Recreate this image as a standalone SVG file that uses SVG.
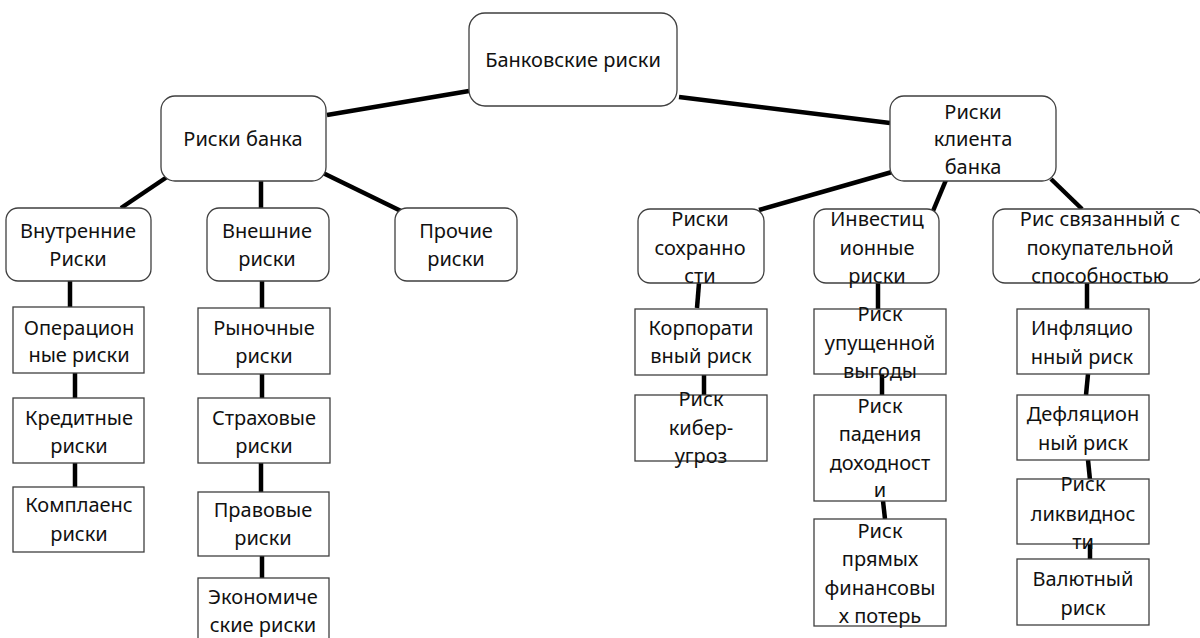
<svg xmlns="http://www.w3.org/2000/svg" width="1200" height="638" viewBox="0 0 1200 638">
<style>
.r{fill:#fff;stroke:#3f3f3f;stroke-width:1.3}
.t{font-family:"Noto Sans","Open Sans",sans-serif;font-size:20px;fill:#111;text-anchor:middle;dominant-baseline:central}
.c{stroke:#000;stroke-width:4.5;fill:none}
</style>
<rect width="1200" height="638" fill="#fff"/>
<g id="connectors">
<line class="c" x1="469" y1="91" x2="327" y2="115"/>
<line class="c" x1="679" y1="97" x2="890" y2="123"/>
<line class="c" x1="167" y1="177" x2="121" y2="208"/>
<line class="c" x1="261" y1="178" x2="261" y2="208"/>
<line class="c" x1="323" y1="173" x2="401" y2="211"/>
<line class="c" x1="70" y1="281" x2="70" y2="307"/>
<line class="c" x1="262" y1="281" x2="262" y2="308"/>
<line class="c" x1="75" y1="373" x2="75" y2="398"/>
<line class="c" x1="75" y1="463" x2="75" y2="487"/>
<line class="c" x1="262" y1="374" x2="262" y2="398"/>
<line class="c" x1="261" y1="463" x2="261" y2="492"/>
<line class="c" x1="262" y1="556" x2="262" y2="578"/>
<line class="c" x1="892" y1="172" x2="759" y2="210"/>
<line class="c" x1="946" y1="180" x2="933" y2="211"/>
<line class="c" x1="1051" y1="179" x2="1082" y2="209"/>
<line class="c" x1="699" y1="283" x2="697" y2="308"/>
<line class="c" x1="878" y1="283" x2="878" y2="309"/>
<line class="c" x1="1087" y1="283" x2="1087" y2="311"/>
<line class="c" x1="704" y1="375" x2="704" y2="397"/>
<line class="c" x1="882" y1="374" x2="882" y2="396"/>
<line class="c" x1="883" y1="501" x2="885" y2="519"/>
<line class="c" x1="1088" y1="374" x2="1086" y2="395"/>
<line class="c" x1="1088" y1="460" x2="1090" y2="480"/>
<line class="c" x1="1090" y1="544" x2="1090" y2="560"/>
</g>
<g id="n-bank-risks"><rect class="r" x="469" y="13" width="208" height="93" rx="16"/><text class="t" x="573" y="59">Банковские риски</text></g>
<g id="n-risks-bank"><rect class="r" x="161" y="96" width="165" height="85" rx="14"/><text class="t" x="243" y="138">Риски банка</text></g>
<g id="n-risks-client"><rect class="r" x="890" y="96" width="166" height="85" rx="14"/><text class="t" x="973" y="111">Риски</text><text class="t" x="973" y="138">клиента</text><text class="t" x="973" y="166">банка</text></g>
<g id="n-internal"><rect class="r" x="6" y="208" width="145" height="73" rx="12"/><text class="t" x="78" y="230">Внутренние</text><text class="t" x="78" y="258">Риски</text></g>
<g id="n-external"><rect class="r" x="207" y="208" width="122" height="73" rx="12"/><text class="t" x="267" y="230">Внешние</text><text class="t" x="267" y="258">риски</text></g>
<g id="n-other"><rect class="r" x="395" y="208" width="122" height="73" rx="12"/><text class="t" x="456" y="230">Прочие</text><text class="t" x="456" y="258">риски</text></g>
<g id="n-safety"><rect class="r" x="638" y="209" width="126" height="74" rx="12"/><text class="t" x="700" y="218">Риски</text><text class="t" x="700" y="247">сохранно</text><text class="t" x="700" y="275">сти</text></g>
<g id="n-invest"><rect class="r" x="814" y="209" width="125" height="74" rx="12"/><text class="t" x="877" y="218">Инвестиц</text><text class="t" x="877" y="247">ионные</text><text class="t" x="877" y="275">риски</text></g>
<g id="n-purchase"><rect class="r" x="993" y="209" width="210" height="74" rx="12"/><text class="t" x="1100" y="218">Рис связанный с</text><text class="t" x="1100" y="247">покупательной</text><text class="t" x="1100" y="275">способностью</text></g>
<g id="n-oper"><rect class="r" x="13" y="307" width="131" height="66"/><text class="t" x="79" y="327">Операцион</text><text class="t" x="79" y="354">ные риски</text></g>
<g id="n-credit"><rect class="r" x="13" y="398" width="131" height="65"/><text class="t" x="79" y="417">Кредитные</text><text class="t" x="79" y="445">риски</text></g>
<g id="n-compl"><rect class="r" x="13" y="487" width="131" height="65"/><text class="t" x="79" y="504">Комплаенс</text><text class="t" x="79" y="533">риски</text></g>
<g id="n-market"><rect class="r" x="198" y="308" width="132" height="66"/><text class="t" x="264" y="327">Рыночные</text><text class="t" x="264" y="355">риски</text></g>
<g id="n-insur"><rect class="r" x="198" y="398" width="132" height="65"/><text class="t" x="264" y="417">Страховые</text><text class="t" x="264" y="445">риски</text></g>
<g id="n-legal"><rect class="r" x="198" y="492" width="131" height="64"/><text class="t" x="263" y="509">Правовые</text><text class="t" x="263" y="537">риски</text></g>
<g id="n-econ"><rect class="r" x="198" y="578" width="131" height="70"/><text class="t" x="263" y="596">Экономиче</text><text class="t" x="263" y="624">ские риски</text></g>
<g id="n-corp"><rect class="r" x="635" y="309" width="132" height="66"/><text class="t" x="701" y="327">Корпорати</text><text class="t" x="701" y="355">вный риск</text></g>
<g id="n-cyber"><rect class="r" x="635" y="395" width="132" height="66"/><text class="t" x="701" y="398">Риск</text><text class="t" x="701" y="427">кибер-</text><text class="t" x="701" y="455">угроз</text></g>
<g id="n-lost"><rect class="r" x="814" y="309" width="132" height="65"/><text class="t" x="880" y="313">Риск</text><text class="t" x="880" y="342">упущенной</text><text class="t" x="880" y="370">выгоды</text></g>
<g id="n-fall"><rect class="r" x="814" y="395" width="132" height="106"/><text class="t" x="880" y="405">Риск</text><text class="t" x="880" y="433">падения</text><text class="t" x="880" y="462">доходност</text><text class="t" x="880" y="489">и</text></g>
<g id="n-direct"><rect class="r" x="814" y="519" width="132" height="107"/><text class="t" x="880" y="530">Риск</text><text class="t" x="880" y="558">прямых</text><text class="t" x="880" y="587">финансовы</text><text class="t" x="880" y="615">х потерь</text></g>
<g id="n-infl"><rect class="r" x="1017" y="309" width="132" height="65"/><text class="t" x="1082" y="327">Инфляцио</text><text class="t" x="1082" y="356">нный риск</text></g>
<g id="n-defl"><rect class="r" x="1017" y="395" width="132" height="65"/><text class="t" x="1083" y="413">Дефляцион</text><text class="t" x="1083" y="442">ный риск</text></g>
<g id="n-liq"><rect class="r" x="1017" y="479" width="132" height="65"/><text class="t" x="1083" y="483">Риск</text><text class="t" x="1083" y="513">ликвиднос</text><text class="t" x="1083" y="541">ти</text></g>
<g id="n-curr"><rect class="r" x="1017" y="559" width="132" height="66"/><text class="t" x="1083" y="578">Валютный</text><text class="t" x="1083" y="607">риск</text></g>
</svg>
